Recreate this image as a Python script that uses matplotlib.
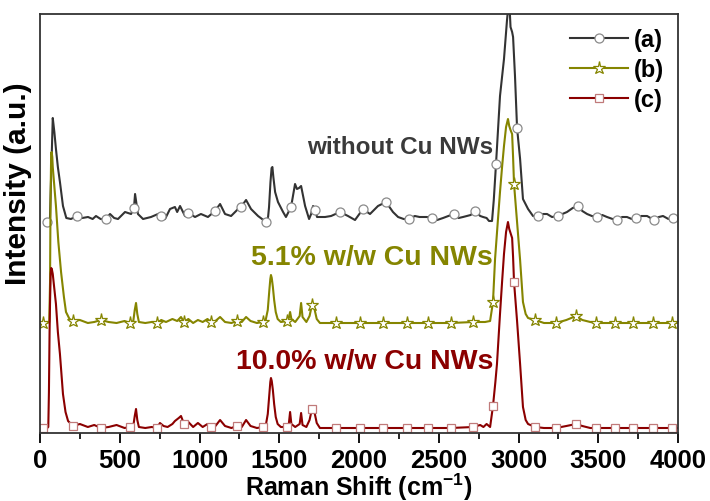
import numpy as np
import matplotlib
matplotlib.use("Agg")
import matplotlib.pyplot as plt
from matplotlib.lines import Line2D

plt.rcParams['font.family'] = ['Liberation Sans', 'DejaVu Sans']
plt.rcParams['font.weight'] = 'bold'
plt.rcParams['mathtext.fontset'] = 'custom'
plt.rcParams['mathtext.rm'] = 'Liberation Sans:bold'
plt.rcParams['mathtext.default'] = 'rm'

# spectrum (a): without Cu NWs (offset already included)
a_x = [44, 62, 71, 80, 90, 100, 112, 125, 144, 165, 194, 232, 265, 301, 330, 351, 380, 414, 439, 465,
       489, 533, 571, 589, 596, 605, 614, 646, 696, 740, 759, 784, 815, 846, 860, 878, 909, 928, 941, 972,
       1009, 1053, 1097, 1129, 1160, 1198, 1242, 1260, 1292, 1323, 1367, 1400, 1417, 1430, 1436, 1445, 1452, 1457, 1463, 1474,
       1492, 1524, 1542, 1574, 1599, 1611, 1624, 1637, 1662, 1687, 1700, 1712, 1724, 1737, 1787, 1825, 1881, 1931, 1975, 2025,
       2069, 2119, 2169, 2213, 2245, 2280, 2314, 2350, 2380, 2426, 2458, 2490, 2527, 2560, 2596, 2625, 2652, 2700, 2727, 2760,
       2778, 2800, 2815, 2834, 2845, 2859, 2884, 2909, 2920, 2928, 2936, 2944, 2950, 2960, 2966, 2978, 2991, 3010, 3028, 3060,
       3091, 3122, 3150, 3179, 3210, 3248, 3275, 3304, 3340, 3373, 3400, 3430, 3460, 3492, 3525, 3555, 3590, 3618, 3650, 3680,
       3710, 3737, 3770, 3806, 3850, 3880, 3906, 3940, 3969, 4000]
a_y = [210, 211, 262, 314, 300, 283, 265, 250, 226, 214, 213, 216, 214, 215, 213, 216, 213, 213, 218, 214,
       213, 220, 218, 224, 238, 228, 218, 213, 215, 218, 216, 213, 223, 225, 220, 226, 216, 219, 218, 215,
       218, 215, 221, 228, 218, 216, 223, 225, 232, 223, 216, 212, 210, 215, 225, 250, 264, 265, 255, 240,
       230, 220, 215, 225, 248, 243, 244, 246, 226, 213, 218, 226, 222, 215, 215, 216, 220, 216, 212, 223,
       218, 226, 230, 220, 215, 213, 213, 216, 215, 215, 214, 212, 214, 216, 218, 214, 215, 217, 221, 216,
       215, 214, 211, 211, 232, 268, 336, 373, 395, 412, 425, 425, 405, 400, 395, 356, 304, 273, 233, 223,
       216, 216, 218, 218, 215, 216, 218, 220, 224, 226, 221, 218, 216, 215, 217, 215, 213, 212, 215, 215,
       213, 214, 216, 216, 212, 215, 216, 213, 214, 215]
a_marks = [44, 232, 414, 589, 759, 928, 1097, 1260, 1417, 1574, 1724, 1881, 2025, 2169,
           2314, 2458, 2596, 2727, 2859, 2991, 3122, 3248, 3373, 3492, 3618, 3737, 3850, 3969]

# spectrum (b): 5.1% w/w Cu NWs
b_x = [19, 45, 58, 63, 66, 70, 73, 77, 80, 100, 115, 132, 150, 163, 185, 207, 250, 300, 340, 382,
       430, 480, 530, 564, 585, 594, 602, 610, 620, 660, 700, 734, 760, 790, 830, 860, 884, 903, 930, 960,
       990, 1020, 1050, 1072, 1100, 1129, 1160, 1200, 1235, 1265, 1292, 1320, 1360, 1398, 1415, 1428, 1438, 1444, 1448, 1453,
       1460, 1468, 1478, 1490, 1510, 1549, 1560, 1568, 1576, 1600, 1628, 1637, 1646, 1670, 1690, 1705, 1718, 1735, 1755, 1856,
       2006, 2151, 2301, 2433, 2577, 2715, 2790, 2822, 2840, 2853, 2870, 2884, 2897, 2909, 2922, 2934, 2942, 2950, 2960, 2966,
       2972, 2991, 3010, 3028, 3045, 3060, 3104, 3160, 3235, 3300, 3361, 3400, 3450, 3486, 3605, 3718, 3844, 3963, 4000]
b_y = [109, 109, 110, 150, 230, 279, 280, 275, 265, 226, 190, 160, 135, 120, 113, 111, 112, 109, 110, 112,
       110, 109, 111, 109, 111, 122, 129, 118, 110, 109, 110, 109, 112, 110, 113, 111, 115, 110, 113, 109,
       112, 110, 113, 110, 111, 115, 110, 109, 111, 110, 115, 111, 109, 110, 112, 122, 142, 153, 157, 154,
       145, 132, 120, 113, 110, 111, 114, 120, 113, 110, 116, 129, 115, 110, 116, 127, 125, 113, 109, 109,
       109, 109, 109, 109, 109, 110, 110, 111, 130, 173, 210, 240, 265, 286, 305, 313, 306, 302, 298, 275,
       248, 210, 172, 130, 118, 114, 112, 109, 109, 112, 116, 112, 110, 109, 109, 109, 109, 109, 109]
b_marks = [19, 207, 382, 564, 734, 903, 1072, 1235, 1398, 1549, 1705, 1856, 2006, 2151,
           2301, 2433, 2577, 2715, 2840, 2972, 3104, 3235, 3361, 3486, 3605, 3718, 3844, 3963]

# spectrum (c): 10.0% w/w Cu NWs
c_x = [19, 45, 52, 56, 60, 63, 67, 70, 74, 80, 100, 112, 125, 144, 160, 176, 207, 250, 300, 340,
       382, 430, 480, 530, 564, 585, 594, 602, 610, 620, 660, 700, 734, 752, 775, 800, 830, 846, 870, 884,
       903, 930, 960, 990, 1020, 1050, 1072, 1100, 1129, 1160, 1200, 1235, 1265, 1292, 1320, 1360, 1398, 1415, 1428, 1438,
       1444, 1448, 1453, 1460, 1468, 1478, 1490, 1510, 1549, 1560, 1568, 1576, 1600, 1628, 1637, 1646, 1670, 1690, 1705, 1718,
       1735, 1755, 1856, 2006, 2151, 2301, 2433, 2577, 2715, 2760, 2780, 2800, 2822, 2840, 2855, 2865, 2884, 2897, 2909, 2922,
       2934, 2942, 2950, 2960, 2966, 2972, 2991, 3010, 3028, 3045, 3060, 3104, 3160, 3235, 3300, 3361, 3400, 3450, 3486, 3605,
       3718, 3844, 3963, 4000]
c_y = [4, 4, 5, 40, 100, 130, 158, 164, 163, 158, 128, 100, 78, 38, 20, 11, 6, 8, 5, 7,
       4, 5, 7, 4, 5, 6, 16, 23, 12, 5, 4, 5, 4, 9, 6, 5, 8, 11, 14, 16,
       8, 10, 5, 9, 5, 8, 5, 6, 12, 6, 4, 6, 5, 12, 6, 4, 5, 6, 18, 38,
       50, 54, 51, 42, 28, 15, 8, 5, 5, 8, 20, 8, 5, 8, 19, 7, 5, 12, 23, 22,
       9, 4, 4, 4, 4, 4, 4, 4, 5, 7, 5, 8, 5, 26, 50, 68, 118, 150, 178, 200,
       210, 203, 199, 194, 175, 150, 111, 68, 25, 12, 8, 5, 4, 4, 6, 8, 6, 4, 4, 4,
       4, 4, 4, 4]
c_marks = b_marks

labels = ['(a)', '(b)', '(c)']
notes = ['without Cu NWs', '5.1% w/w Cu NWs', '10.0% w/w Cu NWs']
note_y = [286, 175, 71]

black = '#333333'
olive = '#858500'
dred = '#8b0000'

fig = plt.figure(figsize=(7.1, 5.02), dpi=100)
ax = fig.add_axes([40/710, 68/502, 638/710, 419/502])


def mark_idx(xs, marks):
    xs = np.asarray(xs)
    return [int(np.abs(xs - m).argmin()) for m in marks]


series = [
    (a_x, a_y, a_marks, black, 'o', 'white', '#8a8a8a', 6.5),
    (b_x, b_y, b_marks, olive, '*', 'white', olive, 9.5),
    (c_x, c_y, c_marks, dred, 's', 'white', '#c07a7a', 5.8),
]
handles = []
for (xs, ys, mk, col, m, mfc, mec, ms), lab in zip(series, labels):
    ax.plot(xs, ys, color=col, lw=1.5, marker=m, markevery=mark_idx(xs, mk),
            mfc=mfc, mec=mec, ms=ms, mew=0.9)
    handles.append(Line2D([], [], color=col, lw=1.5, marker=m, mfc=mfc, mec=mec,
                          ms=ms, mew=0.9, label=lab))

for txt, yy, col, fs in zip(notes, note_y, ['#3a3a3a', olive, dred], [17.5, 20.5, 20.5]):
    ax.text(2840, yy, txt, ha='right', va='center', fontsize=fs, fontweight='bold', color=col)

leg = ax.legend(handles=handles, loc='upper right', frameon=False, fontsize=17,
                handlelength=2.45, handletextpad=0.25, labelspacing=0.3,
                borderaxespad=0.2, numpoints=1)

ax.set_xlim(0, 4000)
ax.set_ylim(-1, 418)
ax.set_xticks(np.arange(0, 4001, 500))
ax.set_xticks(np.arange(0, 4001, 250), minor=True)
ax.set_yticks([])
ax.tick_params(axis='x', which='major', direction='out', length=7, width=1.3,
               labelsize=18.5, colors='black', pad=4)
ax.tick_params(axis='x', which='minor', direction='out', length=4, width=1.2)
for sp in ax.spines.values():
    sp.set_color(black)
    sp.set_linewidth(1.3)

ax.set_xlabel('Raman Shift (cm$^{-1}$)', fontsize=18, fontweight='bold', labelpad=-1)
ax.set_ylabel('Intensity (a.u.)', fontsize=21.5, fontweight='bold')
ax.yaxis.set_label_coords(-0.012, 0.597)

fig.savefig('out.png', dpi=100)
